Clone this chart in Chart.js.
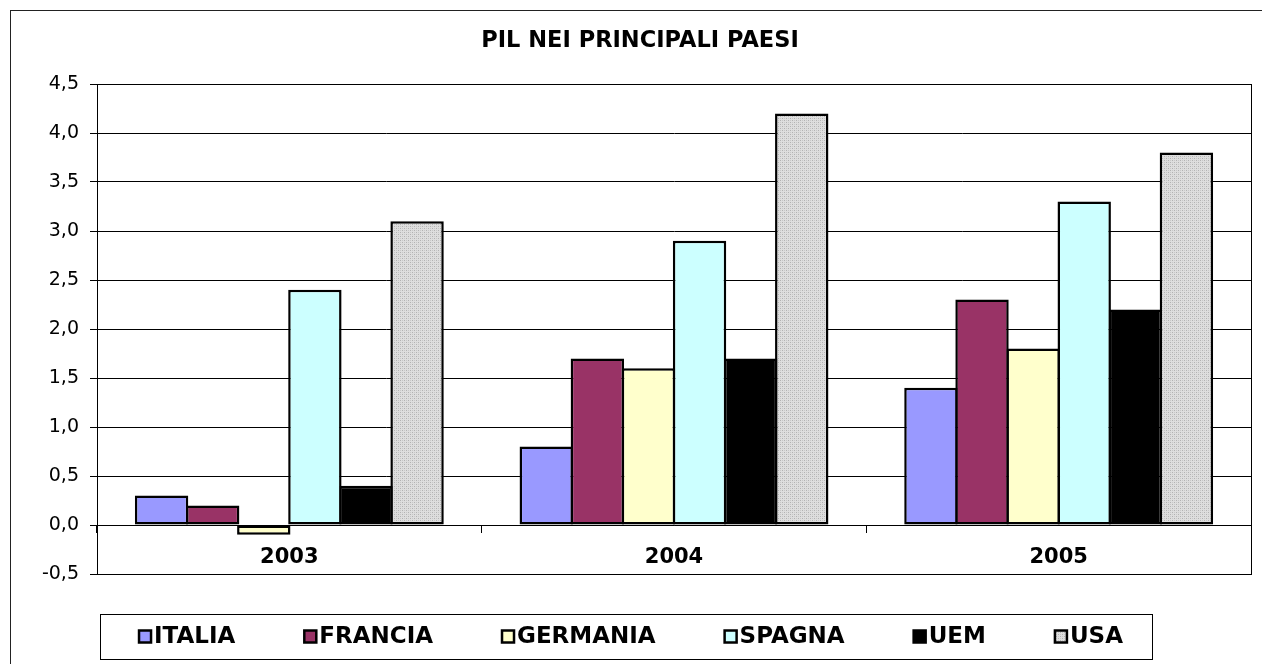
<!DOCTYPE html>
<html>
<head>
<meta charset="utf-8">
<script src="https://cdn.jsdelivr.net/npm/chart.js@4.4.1/dist/chart.umd.min.js"></script>
<style>
  html, body { margin: 0; padding: 0; background: #fff; }
  #wrap { width: 1262px; height: 664px; }
</style>
</head>
<body>
<div id="wrap"><canvas id="myChart" width="1262" height="664"></canvas></div>
<script>
// dati
var anni = ['2003', '2004', '2005'];
var paesi = ['ITALIA', 'FRANCIA', 'GERMANIA', 'SPAGNA', 'UEM', 'USA'];
var italia = [0.3, 0.8, 1.4];
var francia = [0.2, 1.7, 2.3];
var germania = [-0.1, 1.6, 1.8];
var spagna = [2.4, 2.9, 3.3];
var uem = [0.4, 1.7, 2.2];
var usa = [3.1, 4.2, 3.8];
var yMin = -0.5, yMax = 4.5, yStep = 0.5;
var titolo = 'PIL NEI PRINCIPALI PAESI';

var font = "Verdana, 'DejaVu Sans', sans-serif";
var ctx = document.getElementById('myChart').getContext('2d');

// trama puntinata grigia per gli USA
function trama() {
    var c = document.createElement('canvas');
    c.width = 4; c.height = 4;
    var g = c.getContext('2d');
    g.fillStyle = '#dedede';
    g.fillRect(0, 0, 4, 4);
    g.fillStyle = '#b2b2b2';
    g.fillRect(0, 0, 1, 1); g.fillRect(2, 2, 1, 1);
    g.fillStyle = '#c8c8c8';
    g.fillRect(2, 0, 1, 1); g.fillRect(0, 2, 1, 1);
    return ctx.createPattern(c, 'repeat');
}

var colori = ['#9999FF', '#993366', '#FFFFCC', '#CCFFFF', '#000000', trama()];
var valori = [italia, francia, germania, spagna, uem, usa];

const datasets = paesi.map(function(p, i) {
    return {
        label: p,
        data: valori[i],
        backgroundColor: colori[i],
        borderColor: '#000',
        borderWidth: 2.5,
        borderSkipped: false,
        barPercentage: 1.045,
        categoryPercentage: 0.797
    };
});

// cornice esterna e bordo dell'area del grafico
const cornice = {
    id: 'cornice',
    afterDraw(chart) {
        const c = chart.ctx, a = chart.chartArea;
        c.save();
        c.strokeStyle = '#222';
        c.lineWidth = 1;
        c.strokeRect(10.5, 10.5, 1300, 700);
        c.strokeStyle = '#000';
        c.strokeRect(Math.round(a.left) + 0.5, Math.round(a.top) + 0.5,
            Math.round(a.right - a.left), Math.round(a.bottom - a.top));
        c.restore();
    }
};

// legenda in un riquadro sotto il grafico
const legenda = {
    id: 'legenda',
    afterDraw(chart) {
        const c = chart.ctx;
        const box = { left: 100, top: 614, width: 1052, height: 45 };
        c.save();
        c.strokeStyle = '#000';
        c.lineWidth = 1;
        c.strokeRect(box.left + 0.5, box.top + 0.5, box.width, box.height);
        c.font = 'bold 23px ' + font;
        c.textBaseline = 'middle';
        var gap = 69, sw = 12;
        var larghezze = chart.data.datasets.map(function(d) {
            return sw + 3 + c.measureText(d.label).width;
        });
        var tot = larghezze.reduce(function(s, w) { return s + w; }, 0) + gap * (larghezze.length - 1);
        var x = 631 - tot / 2;
        var yc = box.top + box.height / 2;
        chart.data.datasets.forEach(function(d, i) {
            c.fillStyle = d.backgroundColor;
            c.fillRect(x, yc - sw / 2, sw, sw);
            c.lineWidth = 2.5;
            c.strokeStyle = '#000';
            c.strokeRect(x, yc - sw / 2, sw, sw);
            c.fillStyle = '#000';
            c.fillText(d.label, x + sw + 3, yc + 1);
            x += larghezze[i] + gap;
        });
        c.restore();
    }
};

var myChart = new Chart(ctx, {
    type: 'bar',
    data: { labels: anni, datasets: datasets },
    options: {
        responsive: false,
        animation: false,
        devicePixelRatio: 1,
        layout: { padding: { top: 0, left: 29, right: 11, bottom: 90 } },
        plugins: {
            legend: { display: false },
            tooltip: { enabled: false },
            title: {
                display: true,
                text: titolo,
                color: '#000',
                font: { family: font, size: 22.5, weight: 'bold' },
                padding: { top: 28, bottom: 29 }
            }
        },
        scales: {
            x: {
                position: { y: 0 },
                afterFit: function(s) { s.height = 0; },
                grid: { display: true, drawOnChartArea: false, drawTicks: true, tickLength: 7, color: '#000', offset: true },
                border: { display: true, color: '#000', width: 1 },
                ticks: { color: '#000', padding: 13, font: { family: font, size: 21, weight: 'bold' } }
            },
            y: {
                min: yMin,
                max: yMax,
                afterFit: function(s) { s.width = 68; },
                grid: { color: '#000', lineWidth: 1, drawTicks: true, tickLength: 7 },
                border: { display: true, color: '#000' },
                ticks: {
                    stepSize: yStep,
                    color: '#000',
                    padding: 11,
                    font: { family: font, size: 19 },
                    callback: function(v) { return v.toFixed(1).replace('.', ','); }
                }
            }
        }
    },
    plugins: [cornice, legenda]
});
</script>
</body>
</html>
